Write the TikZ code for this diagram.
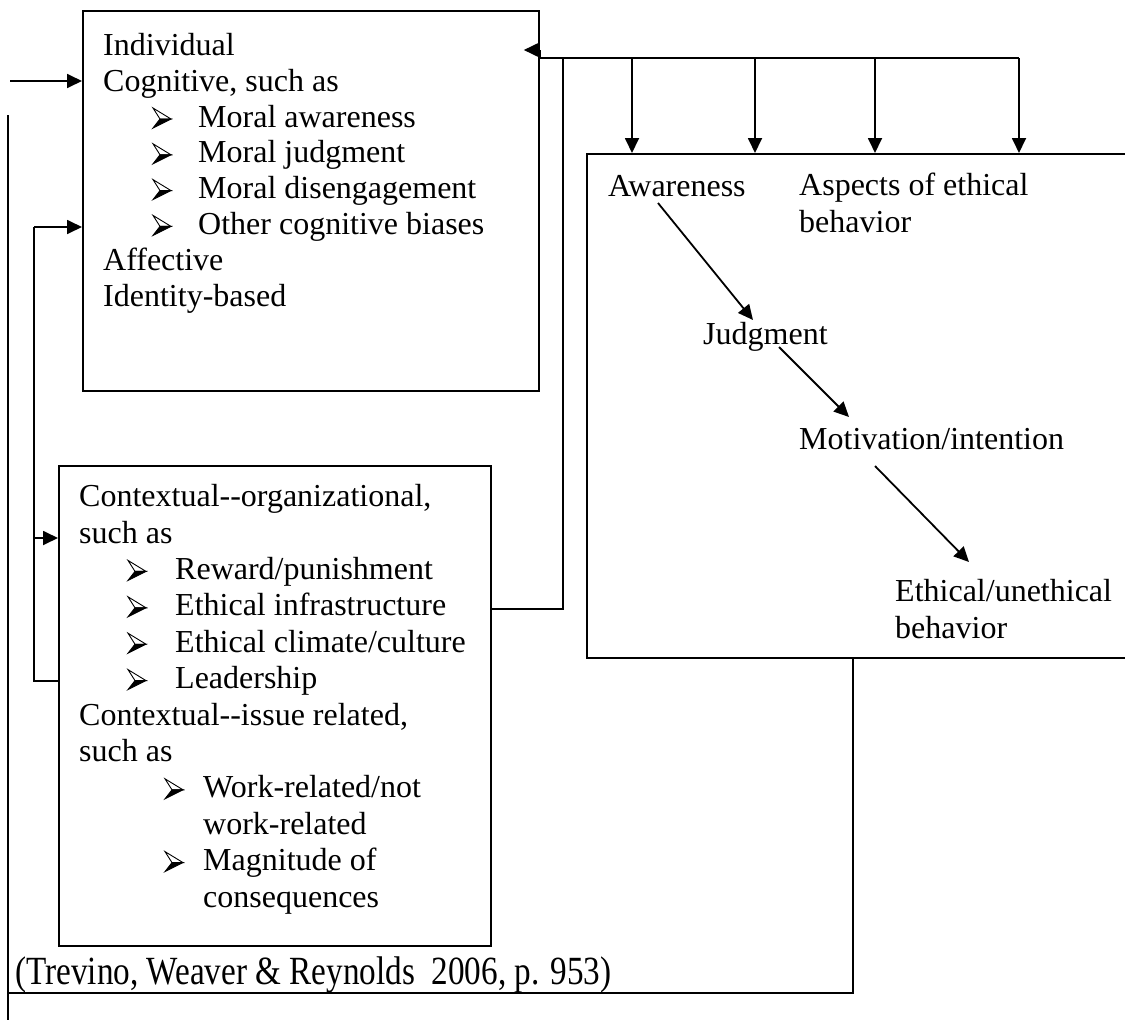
\documentclass[tikz,border=0pt]{standalone}
\usepackage{fontspec}
\setmainfont{Liberation Serif}[Ligatures=TeXOff]
\usetikzlibrary{arrows.meta,calc}
\begin{document}
\begin{tikzpicture}[x=1pt,y=-1pt,
  every node/.style={inner sep=0pt},
  frame/.style={draw,line width=1.8pt,anchor=north west},
  wire/.style={line width=1.8pt},
  arr/.style={wire,-{Triangle[length=15pt,width=14pt]}},
  txt/.style={anchor=base west,align=left,font=\fontsize{32}{36.4}\selectfont},
  txtA/.style={txt,font=\fontsize{32}{35.8}\selectfont},
  % three-dimensional arrowhead bullet, origin on the baseline
  bullet/.pic={
    \filldraw[fill=white,line width=0.9pt,line join=miter] (0,-19) -- (18,-8) -- (7,-8) -- cycle;
    \filldraw[line width=0.9pt,line join=miter] (7,-8) -- (18,-8) -- (0,1) -- cycle;
  }]
\useasboundingbox (0,0) rectangle (1125,1020);

% boxes
\node[frame,minimum width=456pt,minimum height=380pt] (box1) at (82,10) {};
\node[frame,minimum width=432pt,minimum height=480pt] (box2) at (58,465) {};
\node[frame,minimum width=545pt,minimum height=504pt] (box3) at (586,153) {};

% individual factors (placed by the baseline of the last line)
\node[txtA] (t1) at (103,306) {Individual\\
Cognitive, such as\\
\hspace*{95pt}Moral awareness\\
\hspace*{95pt}Moral judgment\\
\hspace*{95pt}Moral disengagement\\
\hspace*{95pt}Other cognitive biases\\
Affective\\
Identity-based};
\foreach \b in {2,3,4,5}
  \pic at ($(t1.base west)+(50,{-(7-\b)*35.8})$) {bullet};

% contextual factors
\node[txt] (t2) at (79,907) {Contextual--organizational,\\
such as\\
\hspace*{96pt}Reward/punishment\\
\hspace*{96pt}Ethical infrastructure\\
\hspace*{96pt}Ethical climate/culture\\
\hspace*{96pt}Leadership\\
Contextual--issue related,\\
such as\\
\hspace*{124pt}Work-related/not\\
\hspace*{124pt}work-related\\
\hspace*{124pt}Magnitude of\\
\hspace*{124pt}consequences};
\foreach \b in {2,3,4,5}
  \pic at ($(t2.base west)+(49,{-(11-\b)*36.4})$) {bullet};
\foreach \b in {8,10}
  \pic at ($(t2.base west)+(86,{-(11-\b)*36.4})$) {bullet};

% aspects of ethical behavior
\node[txt] (aw) at (608,196) {Awareness};
\node[txt] (asp) at (799,232) {Aspects of ethical\\behavior};
\node[txt] (jd) at (703,344) {Judgment};
\node[txt] (mo) at (799,449) {Motivation/intention};
\node[txt] (eb) at (895,638) {Ethical/unethical\\behavior};

\draw[arr] ($(aw.base west)+(50,7)$) -- ($(jd.base west)+(50,-24)$);
\draw[arr] ($(jd.base west)+(76,3)$) -- ($(mo.base west)+(50,-32)$);
\draw[arr] ($(mo.base west)+(76,17)$) -- ($(eb.base west)+(74,-76)$);

% source
\node[txt] (cite) at (15,984) {\scalebox{0.83}[1]{\fontsize{40}{44}\selectfont(Trevino, Weaver \& Reynolds\ \ 2006, p. 953)}};

% top bus feeding the process box and back into the individual box
\coordinate (busR) at (1019,58);
\draw[wire] (busR) -- (box1.east |- busR) -- ++(0,-8);
\draw[arr] ($(box1.east |- busR)+(0,-8)$) -- ++(-16,0);
\foreach \x/\n in {632/d1,755/d2,875/d3,1019/d4}{
  \coordinate (\n) at (\x,58);
  \draw[arr] (\n) -- (\n |- box3.north);
}

% contextual box to bus
\coordinate (k) at (563,609);
\draw[wire] (k -| box2.east) -- (k) -- (k |- busR);

% incoming arrow
\coordinate (in1) at (10,81);
\draw[arr] (in1) -- (in1 -| box1.west);

% outer feedback loop
\coordinate (lt) at (8,115);
\coordinate (lb) at (8,1020);
\coordinate (fb) at (853,993);
\draw[wire] (lt) -- (lb);
\draw[wire] (fb |- box3.south) -- (fb) -- (fb -| lt);

% inner loop between the two factor boxes
\coordinate (it) at (34,227);
\coordinate (im) at (34,538);
\coordinate (ib) at (34,681);
\draw[arr] (it) -- (it -| box1.west);
\draw[arr] (im) -- (im -| box2.west);
\draw[wire] (it) -- (ib) -- (ib -| box2.west);
\end{tikzpicture}
\end{document}
